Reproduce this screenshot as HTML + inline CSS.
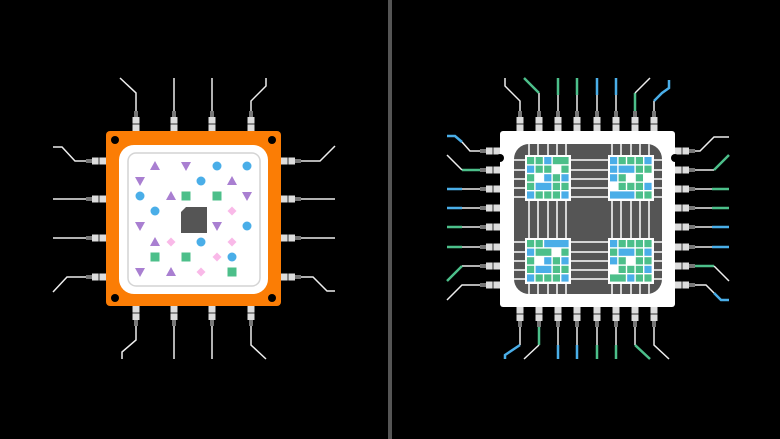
<!DOCTYPE html>
<html><head><meta charset="utf-8"><style>
html,body{margin:0;padding:0;background:#000;width:780px;height:439px;overflow:hidden}
</style></head><body>
<svg id="s" width="780" height="439" viewBox="0 0 780 439" xmlns="http://www.w3.org/2000/svg">
<rect width="780" height="439" fill="#000"/>
<rect x="388" y="0" width="4" height="439" fill="#555"/>
<g id="g"></g>
</svg>
<script>
const g=document.getElementById('g');let h='';
function pin(x,y,d){
 if(d=='u'||d=='d'){const s=d=='u'?-1:1;
  const y1=y, y2=y+s*14, y3=y+s*20;
  h+=`<rect x="${x-3.5}" y="${Math.min(y1,y2)}" width="7" height="14" fill="#ddd"/>`;
  h+=`<rect x="${x-3.5}" y="${y+s*7-1}" width="7" height="2" fill="#888"/>`;
  h+=`<rect x="${x-2}" y="${Math.min(y2,y3)}" width="4" height="6" fill="#777"/>`;
 }else{const s=d=='l'?-1:1;
  const x1=x,x2=x+s*14,x3=x+s*20;
  h+=`<rect y="${y-3.5}" x="${Math.min(x1,x2)}" height="7" width="14" fill="#ddd"/>`;
  h+=`<rect y="${y-3.5}" x="${x+s*7-1}" height="7" width="2" fill="#888"/>`;
  h+=`<rect y="${y-2}" x="${Math.min(x2,x3)}" height="4" width="6" fill="#777"/>`;
 }
}
function wire(pts,c){const w=(c&&c!='#eee')?2.5:1.5;h+=`<polyline points="${pts}" fill="none" stroke="${c||'#eee'}" stroke-width="${w}"/>`}
wire('120,78 136,93 136,112');wire('174,78 174,112');wire('212,78 212,112');wire('266,78 266,86 251,101 251,112');
wire('136,326 136,340 122,352 122,359');wire('174,326 174,359');wire('212,326 212,359');wire('251,326 251,345 266,359');
wire('53,147 62,147 75,161 87,161');wire('53,199 87,199');wire('53,238 87,238');wire('53,292 67,277 87,277');
wire('300,161 320,161 335,146');wire('300,199 335,199');wire('300,238 335,238');wire('300,277 313,277 327,291 335,291');
[136,174,212,251].forEach(x=>{pin(x,131,'u');pin(x,306,'d')});
[161,199,238,277].forEach(y=>{pin(106,y,'l');pin(281,y,'r')});
h+=`<rect x="106" y="131" width="175" height="175" rx="4" fill="#fb7d05"/>`;
[[115,140],[272,140],[115,298],[272,298]].forEach(p=>h+=`<circle cx="${p[0]}" cy="${p[1]}" r="4" fill="#000"/>`);
h+=`<rect x="119" y="145" width="149" height="149" rx="15" fill="#fff"/>`;
h+=`<rect x="128" y="153" width="132" height="133" rx="8" fill="#fff" stroke="#d4d4d4" stroke-width="1.5"/>`;
h+=`<path d="M186,207 L207,207 L207,233 L181,233 L181,212 Z" fill="#555"/>`;
const P='#a97fd1',B='#4aaee8',G='#4cbf8a',K='#f9b9e8';
function tu(x,y){h+=`<polygon points="${x-5},${y+4} ${x+5},${y+4} ${x},${y-5}" fill="${P}"/>`}
function td(x,y){h+=`<polygon points="${x-5},${y-4} ${x+5},${y-4} ${x},${y+5}" fill="${P}"/>`}
function ci(x,y){h+=`<circle cx="${x}" cy="${y}" r="4.5" fill="${B}"/>`}
function sq(x,y){h+=`<rect x="${x-4.5}" y="${y-4.5}" width="9" height="9" fill="${G}"/>`}
function di(x,y){h+=`<polygon points="${x},${y-4.5} ${x+4.5},${y} ${x},${y+4.5} ${x-4.5},${y}" fill="${K}"/>`}
tu(155,166);td(186,166);ci(217,166);ci(247,166);
td(140,181);ci(201,181);tu(232,181);
ci(140,196);tu(171,196);sq(186,196);sq(217,196);td(247,196);
ci(155,211);di(232,211);
td(140,226);td(217,226);ci(247,226);
tu(155,242);di(171,242);ci(201,242);di(232,242);
sq(155,257);sq(186,257);di(217,257);ci(232,257);
td(140,272);tu(171,272);di(201,272);sq(232,272);
const W='#eee',GR='#4cbf8a',BL='#4aaee8';
const tx=[520,539,558,577,597,616,635,654];
const sy=[151,170,189,208,227,247,266,285];
wire('505,78 505,86 520,101 520,112');
wire('539,112 539,93',W);wire('539,93 524,78',GR);
wire('558,112 558,95',W);wire('558,95 558,78',GR);
wire('577,112 577,95',W);wire('577,95 577,78',GR);
wire('597,112 597,95',W);wire('597,95 597,78',BL);
wire('616,112 616,95',W);wire('616,95 616,78',BL);
wire('635,112 635,93',GR);wire('635,93 650,78',W);
wire('654,112 654,101',W);wire('654,101 662,93 669,88 669,80',BL);
wire('520,326 520,345',W);wire('520,345 505,355 505,359',BL);
wire('539,326 539,345',GR);wire('539,345 524,359',W);
wire('558,326 558,345',W);wire('558,345 558,359',BL);
wire('577,326 577,345',W);wire('577,345 577,359',BL);
wire('597,326 597,345',W);wire('597,345 597,359',GR);
wire('616,326 616,345',W);wire('616,345 616,359',GR);
wire('635,326 635,345',W);wire('635,345 650,359',GR);
wire('654,326 654,345 669,359',W);
wire('482,151 470,151 462,142',W);wire('462,142 455,136 447,136',BL);
wire('482,170 462,170',GR);wire('462,170 447,155',W);
wire('482,189 462,189',W);wire('462,189 447,189',BL);
wire('482,208 462,208',W);wire('462,208 447,208',BL);
wire('482,227 462,227',W);wire('462,227 447,227',GR);
wire('482,247 462,247',W);wire('462,247 447,247',GR);
wire('482,266 462,266',W);wire('462,266 447,281',GR);
wire('482,285 462,285 447,300',W);
wire('693,151 700,151 714,137 729,137',W);
wire('693,170 714,170',W);wire('714,170 729,155',GR);
wire('693,189 712,189',W);wire('712,189 729,189',GR);
wire('693,208 712,208',W);wire('712,208 729,208',GR);
wire('693,227 712,227',W);wire('712,227 729,227',BL);
wire('693,247 712,247',W);wire('712,247 729,247',BL);
wire('693,266 714,266',GR);wire('714,266 729,281',W);
wire('693,285 706,285 714,293',W);wire('714,293 721,300 729,300',BL);
tx.forEach(x=>{pin(x,131,'u');pin(x,307,'d')});
sy.forEach(y=>{pin(500,y,'l');pin(675,y,'r')});
h+=`<rect x="500" y="131" width="175" height="176" rx="3" fill="#fff"/>`;
h+=`<circle cx="500" cy="158" r="4" fill="#000"/><circle cx="675" cy="158" r="4" fill="#000"/>`;
h+=`<rect x="514" y="144" width="148" height="150" rx="15" fill="#555"/>`;
h+=`<clipPath id="cp"><rect x="514" y="144" width="148" height="150" rx="15"/></clipPath><g clip-path="url(#cp)">`;
[529,538,548,557,566,612,621,631,640,649].forEach(x=>h+=`<rect x="${x-0.75}" y="144" width="1.5" height="150" fill="#fff"/>`);
[160,170,179,188,197,242,252,261,270,279].forEach(y=>h+=`<rect x="514" y="${y-0.75}" width="148" height="1.5" fill="#fff"/>`);
h+=`</g>`;
const pats=[
['ggbGG','bgg.g','g.bgb','gBBgg','bgggb'],
['bggGb','bBBgg','bg.g.','.gggb','BBBgg'],
['ggBBB','bGG.g','g.bgb','gBBgg','bgggb'],
['bgggg','gBBgb','bg.gg','.gggb','GGbgg']];
const pos=[[525,155],[608,155],[525,238],[608,238]];
pos.forEach((p,i)=>{
 h+=`<rect x="${p[0]}" y="${p[1]}" width="46" height="46" fill="#fff"/>`;
 pats[i].forEach((row,r)=>{
  let c=0;
  while(c<5){const ch=row[c];if(ch=='.'){c++;continue;}
   let n=1;
   if(ch==ch.toUpperCase()){while(c+n<5&&row[c+n]==ch)n++;}
   const col=(ch.toLowerCase()=='g')?GR:BL;
   const x=p[0]+2+c*8.6,y=p[1]+2+r*8.6;
   h+=`<rect x="${x.toFixed(1)}" y="${y.toFixed(1)}" width="${(7.2+(n-1)*8.6).toFixed(1)}" height="7.2" fill="${col}"/>`;
   c+=n;
  }
 });
});
g.innerHTML=h;
</script>
</body></html>
